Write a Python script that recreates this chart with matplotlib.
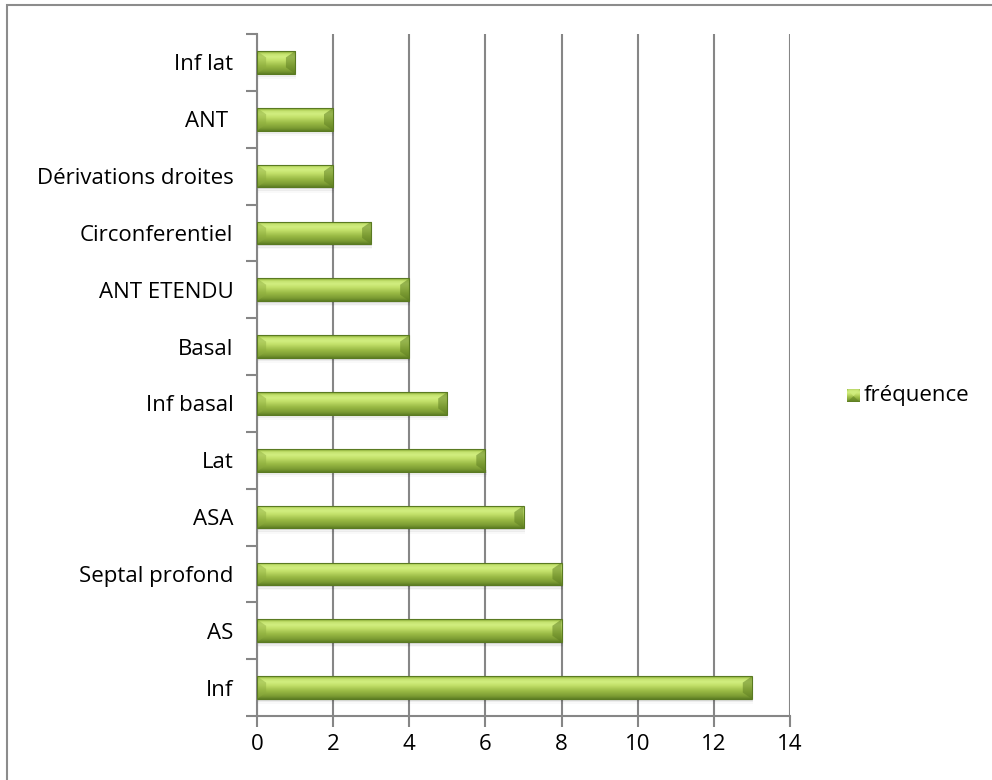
import numpy as np
import matplotlib
matplotlib.use("Agg")
import matplotlib.pyplot as plt
from matplotlib.patches import Rectangle, Polygon
from matplotlib.colors import LinearSegmentedColormap

plt.rcParams['font.family'] = ['Open Sans', 'DejaVu Sans']

categories = ["Inf", "AS", "Septal profond", "ASA", "Lat", "Inf basal",
              "Basal", "ANT ETENDU", "Circonferentiel", "Dérivations droites",
              "ANT ", "Inf lat"]
frequence = [13, 8, 8, 7, 6, 5, 4, 4, 3, 2, 2, 1]
series_name = "fréquence"
x_ticks = [0, 2, 4, 6, 8, 10, 12, 14]

FS = 16

fig = plt.figure(figsize=(9.92, 7.80), dpi=100)
fig.patch.set_facecolor("white")

# outer chart-area frame
fig.add_artist(Rectangle((7 / 992, -0.05), 1.2, 1 - 5 / 780 + 0.05,
                         transform=fig.transFigure, fill=False,
                         edgecolor="#8c8c8c", linewidth=1.5))

ax = fig.add_axes([257 / 992, 64 / 780, 533 / 992, 682 / 780])
ax.set_xlim(0, 14)
ax.set_ylim(-0.5, len(categories) - 0.5)

# vertical shading of the bevelled bars (bottom -> top)
grad = LinearSegmentedColormap.from_list(
    "bar", [(0.0, "#5f7f24"), (0.12, "#7b9b33"), (0.35, "#9aba45"),
            (0.6, "#c2e06a"), (0.75, "#d2ee80"), (0.87, "#c6e472"),
            (0.94, "#a8c850"), (1.0, "#6f8f2c")])
gimg = np.linspace(0, 1, 64).reshape(-1, 1)

bar_h = 0.40
for i, v in enumerate(frequence):
    y0, y1 = i - bar_h / 2, i + bar_h / 2
    # soft shadow under the bar
    for k, a in enumerate([0.09, 0.05, 0.025]):
        ax.add_patch(Rectangle((0.03, y0 - 0.03 - 0.03 * k), v, 0.05,
                               facecolor="#000000", alpha=a, linewidth=0,
                               zorder=2))
    im = ax.imshow(gimg, cmap=grad, aspect="auto", origin="lower",
                   extent=(0, v, y0, y1), zorder=3, interpolation="bilinear")
    im.set_clip_path(Rectangle((0, y0), v, bar_h, transform=ax.transData))
    # bevelled ends
    bw = min(0.24, v / 4)
    ax.add_patch(Polygon([(0, y0), (bw, y0 + bar_h * 0.28),
                          (bw, y1 - bar_h * 0.28), (0, y1)],
                         closed=True, facecolor="#8cab3e", alpha=0.45,
                         linewidth=0, zorder=4))
    ax.add_patch(Polygon([(v, y0), (v - bw, y0 + bar_h * 0.28),
                          (v - bw, y1 - bar_h * 0.28), (v, y1)],
                         closed=True, facecolor="#5c7c20", alpha=0.5,
                         linewidth=0, zorder=4))
    ax.add_patch(Rectangle((0, y0), v, bar_h, fill=False,
                           edgecolor="#5a7a22", linewidth=0.8, zorder=5))

# axes styling
for s in ["top", "right"]:
    ax.spines[s].set_visible(False)
for s in ["left", "bottom"]:
    ax.spines[s].set_color("#868686")
    ax.spines[s].set_linewidth(1.5)
    ax.spines[s].set_zorder(1)

ax.set_xticks(x_ticks)
ax.set_xticklabels([str(t) for t in x_ticks], fontsize=FS)
ax.tick_params(axis="x", direction="out", length=8, width=1.5,
               color="#868686", pad=5)
ax.xaxis.grid(True, color="#868686", linewidth=1.5)
ax.set_axisbelow(True)

ax.set_yticks(np.arange(-0.5, len(categories), 1.0))
ax.set_yticklabels([])
ax.tick_params(axis="y", which="major", direction="out", length=8,
               width=1.5, color="#868686")
ax.set_yticks(np.arange(len(categories)), minor=True)
ax.set_yticklabels(categories, minor=True, fontsize=FS)
ax.tick_params(axis="y", which="minor", length=0, pad=17)

# legend
lax = fig.add_axes([847 / 992, (780 - 402) / 780, 13 / 992, 13 / 780])
lax.imshow(gimg, cmap=grad, aspect="auto", origin="lower",
           extent=(0, 1, 0, 1), interpolation="bilinear")
lax.add_patch(Polygon([(0, 1), (0.5, 0.45), (1, 1)], closed=True,
                      facecolor="#d2ee80", alpha=0.7, linewidth=0))
lax.add_patch(Polygon([(0, 0), (0.5, 0.45), (1, 0)], closed=True,
                      facecolor="#5c7c20", alpha=0.5, linewidth=0))
lax.set_xlim(0, 1)
lax.set_ylim(0, 1)
lax.axis("off")
fig.text(864 / 992, (780 - 396) / 780, series_name, fontsize=FS,
         va="center", ha="left")

fig.savefig("out.png", dpi=100)
